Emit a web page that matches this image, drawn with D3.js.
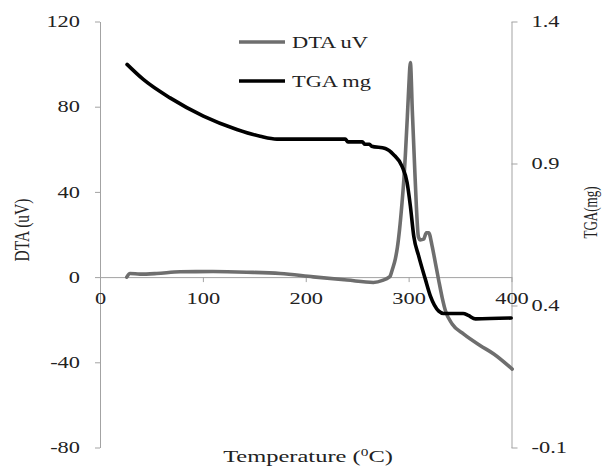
<!DOCTYPE html>
<html>
<head>
<meta charset="utf-8">
<script src="https://cdn.jsdelivr.net/npm/d3@7"></script>
<style>
  body { margin: 0; background: #fff; }
  text { font-family: "Liberation Serif", "Times New Roman", serif; fill: #222; }
</style>
</head>
<body>
<div id="chart"></div>
<script>
/*
    Chart data
*/
var dtaTemp = [26.0, 29.2, 38.9, 55.2, 77.9, 109.9, 142.7, 175.2, 207.3, 240.1, 265.7, 275.4, 280.3,
    282.2, 284.2, 287.1, 289.1, 291.1, 293.6, 295.4, 296.8, 298.8, 300.2, 301.7,
    303.6, 305.6, 307.5, 309.5, 311.4, 314.6, 317.2, 319.5, 322.8, 326.0, 329.3, 332.6,
    335.8, 342.3, 353.6, 369.8, 382.8, 400.7];
var dtaVal = [0.0, 1.7, 1.4, 1.7, 2.5, 2.6, 2.3, 1.7, 0.1, -1.4, -2.5, -1.4, -0.3,
    0.6, 3.6, 8.6, 14.0, 22.0, 35.0, 46.0, 57.0, 75.7, 89.8, 100.7,
    78.0, 54.6, 33.5, 18.9, 17.5, 17.8, 20.8, 20.8, 14.7, 6.7, -1.7, -9.6,
    -15.8, -22.0, -26.8, -32.2, -36.1, -43.2];

var tgaTemp = [26.3, 42.1, 68.1, 100.5, 133.0, 155.7, 172.0, 238.4, 241.0, 255.0, 257.5, 262.0, 264.0,
    277.4, 285.2, 293.6, 298.5, 301.7, 305.0, 309.8, 316.3, 321.2, 329.3, 334.0,
    353.0, 358.0, 365.0, 399.7];
var tgaVal = [1.249, 1.196, 1.131, 1.067, 1.020, 0.996, 0.986, 0.986, 0.976, 0.976, 0.968, 0.968, 0.961,
    0.953, 0.932, 0.890, 0.833, 0.750, 0.644, 0.574, 0.492, 0.433, 0.380, 0.372,
    0.372, 0.365, 0.353, 0.356];

var xTicks = [0, 100, 200, 300, 400];
var dtaTicks = [-80, -40, 0, 40, 80, 120];
var tgaTicks = [-0.1, 0.4, 0.9, 1.4];

var seriesNames = ["DTA uV", "TGA mg"];

/* Default variables */
var width = 607;
var height = 469;
var SX = 1.4; // the picture's text looks stretched sideways
var axisColor = "#a3a3a3";

var svg = d3.select("#chart")
    .append("svg")
    .attr("width", width)
    .attr("height", height);

var x = d3.scaleLinear().domain([0, 400]).range([100, 511.5]);
var yL = d3.scaleLinear().domain([-80, 120]).range([447.5, 21.5]);
var yR = d3.scaleLinear().domain([-0.1, 1.4]).range([447.5, 21.5]);

/* Axes */
var leftAxis = svg.append("g")
    .attr("transform", "translate(" + x(0) + ",0)")
    .call(d3.axisLeft(yL).tickValues(dtaTicks).tickSize(5).tickSizeOuter(0)
        .tickFormat(function (d) { return String(d); }));

var rightAxis = svg.append("g")
    .attr("transform", "translate(" + x(400) + ",0)")
    .call(d3.axisRight(yR).tickValues(tgaTicks).tickSize(6).tickSizeOuter(0)
        .tickFormat(function (d) { return d.toFixed(1); }));

var bottomAxis = svg.append("g")
    .attr("transform", "translate(0," + yL(0) + ")")
    .call(d3.axisBottom(x).tickValues(xTicks).tickSize(5).tickSizeOuter(0));

[leftAxis, rightAxis, bottomAxis].forEach(function (g) {
    g.selectAll("path, line").attr("stroke", axisColor);
    g.selectAll("text")
        .attr("font-family", null)
        .style("font-size", "16px")
        .attr("fill", "#222");
});

leftAxis.selectAll("text")
    .attr("x", -20 / SX)
    .attr("transform", "scale(" + SX + ",1)");

rightAxis.selectAll("text")
    .attr("x", 20 / SX)
    .attr("transform", "scale(" + SX + ",1)");

bottomAxis.selectAll("text")
    .attr("y", 27)
    .attr("dy", 0)
    .attr("transform", "scale(" + SX + ",1)");

/* Lines */
var dtaLine = d3.line()
    .x(function (d) { return x(d[0]); })
    .y(function (d) { return yL(d[1]); })
    .curve(d3.curveMonotoneX);

var tgaLine = d3.line()
    .x(function (d) { return x(d[0]); })
    .y(function (d) { return yR(d[1]); })
    .curve(d3.curveMonotoneX);

svg.append("path")
    .datum(d3.zip(dtaTemp, dtaVal))
    .attr("d", dtaLine)
    .attr("fill", "none")
    .attr("stroke", "#6e6e6e")
    .attr("stroke-width", 3.6)
    .attr("stroke-linecap", "round")
    .attr("stroke-linejoin", "round");

svg.append("path")
    .datum(d3.zip(tgaTemp, tgaVal))
    .attr("d", tgaLine)
    .attr("fill", "none")
    .attr("stroke", "#000")
    .attr("stroke-width", 3.6)
    .attr("stroke-linecap", "round")
    .attr("stroke-linejoin", "round");

/* Titles */
svg.append("text")
    .attr("transform", "translate(29,230) scale(" + SX + ",1) rotate(-90)")
    .attr("text-anchor", "middle")
    .style("font-size", "15.5px")
    .text("DTA (uV)");

svg.append("text")
    .attr("transform", "translate(597,212.5) scale(" + SX + ",1) rotate(-90)")
    .attr("text-anchor", "middle")
    .style("font-size", "13px")
    .text("TGA(mg)");

var xTitle = svg.append("text")
    .attr("transform", "translate(308,462) scale(" + SX + ",1)")
    .attr("text-anchor", "middle")
    .style("font-size", "17.5px");
xTitle.append("tspan").text("Temperature (");
xTitle.append("tspan").attr("dy", -6).style("font-size", "11px").text("0");
xTitle.append("tspan").attr("dy", 6).text("C)");

/* Legend */
var legendColors = ["#6e6e6e", "#000"];
var legendY = [42, 81];
var legend = svg.selectAll(".legend")
    .data(seriesNames)
    .enter().append("g")
    .attr("class", "legend")
    .attr("transform", function (d, i) { return "translate(239," + legendY[i] + ")"; });

legend.append("line")
    .attr("x1", 0).attr("x2", 46)
    .attr("stroke", function (d, i) { return legendColors[i]; })
    .attr("stroke-width", 3.6);

legend.append("text")
    .attr("transform", "translate(53,5.5) scale(" + SX + ",1)")
    .style("font-size", "16px")
    .text(function (d) { return d; });
</script>
</body>
</html>
